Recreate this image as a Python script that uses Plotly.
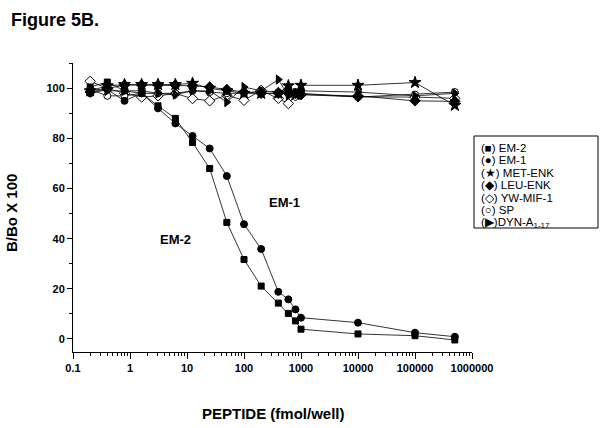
import plotly.graph_objects as go

X = [0.2, 0.4, 0.8, 1.6, 3.1, 6.25, 12.5, 25, 50, 100, 200, 400, 600, 800, 1000, 10000, 100000, 500000]
EM2 = [100.5, 102.5, 99, 98, 93, 88, 78.4, 68, 46.5, 31.7, 21.1, 14.3, 10.2, 7.2, 3.9, 2.0, 1.3, -0.4]
EM1 = [98, 99.5, 95, 98, 92, 86, 81, 76, 65, 45.8, 35.9, 18.8, 15.8, 11.8, 8.5, 6.5, 2.5, 0.9]
MET = [99, 101, 101.5, 101.5, 101.5, 101.5, 102, 100, 99, 98, 98, 98, 101, 97.5, 101.2, 101.2, 102.3, 93.2]
LEU = [98.5, 100, 101.3, 101.3, 101.3, 101.3, 101, 100.5, 99.5, 98.5, 98, 98, 98, 98, 97.5, 97, 95, 94.8]
YW = [102.8, 100, 98, 96.5, 97, 97.9, 95.9, 95, 97.2, 95.2, 99.2, 96, 93.9, 97, 97.5, 96.6, 96.5, 96]
SP = [99.5, 97, 97, 98, 98, 98, 99, 98.5, 98, 98, 99, 98.5, 100, 98.5, 98, 96.5, 97.5, 98.5]
DYN = [100, 99, 99, 99, 98, 97.5, 99, 99, 94.5, 100.5, 99, 103.5, 97, 98, 99, 98.5, 97, 98]

XTICKS = [0.1, 1, 10, 100, 1000, 10000, 100000, 1000000]
XTICKTEXT = ["0.1", "1", "10", "100", "1000", "10000", "100000", "1000000"]
YTICKS = [0, 20, 40, 60, 80, 100]
LEGEND_SYMBOLS = ["\u25A0", "\u25CF", "\u2605", "\u25C6", "\u25C7", "\u25CB", "\u25B6"]
LEGEND_LABELS = [" EM-2", " EM-1", " MET-ENK", " LEU-ENK", " YW-MIF-1", " SP", "DYN-A<sub>1-17</sub>"]

FONT = "Liberation Sans, Arial, sans-serif"

series = [
    ("YW-MIF-1", YW, "diamond", "white", 8),
    ("SP", SP, "circle", "white", 7),
    ("DYN-A", DYN, "triangle-right", "black", 8),
    ("LEU-ENK", LEU, "diamond", "black", 8),
    ("MET-ENK", MET, "star", "black", 9),
    ("EM-1", EM1, "circle", "black", 7),
    ("EM-2", EM2, "square", "black", 6),
]

fig = go.Figure()
for name, ys, sym, fill, sz in series:
    fig.add_trace(go.Scatter(
        x=X, y=ys, mode="lines+markers", name=name,
        line=dict(color="black", width=0.8),
        marker=dict(symbol=sym, size=sz, color=fill, line=dict(color="black", width=1)),
        showlegend=False,
    ))

minor_x = [m * 10 ** e for e in range(-1, 6) for m in range(2, 10)]

fig.update_layout(
    width=603, height=428,
    margin=dict(l=73, r=131, t=63, b=76),
    paper_bgcolor="white", plot_bgcolor="white",
    font=dict(family=FONT, color="black"),
    xaxis=dict(
        type="log", range=[-1, 6], showgrid=False, zeroline=False,
        showline=True, linecolor="black", linewidth=1,
        ticks="outside", ticklen=6, tickcolor="black", tickwidth=1,
        tickvals=XTICKS, ticktext=XTICKTEXT,
        tickfont=dict(size=11, family=FONT, weight="bold"),
        minor=dict(tickvals=minor_x, ticks="outside", ticklen=3, tickcolor="black", tickwidth=1),
    ),
    yaxis=dict(
        range=[-5.2, 110.1], showgrid=False, zeroline=False,
        showline=True, linecolor="black", linewidth=1,
        ticks="outside", ticklen=5, tickcolor="black", tickwidth=1,
        tickvals=YTICKS,
        tickfont=dict(size=11, family=FONT, weight="bold"),
        minor=dict(dtick=10, ticks="outside", ticklen=3, tickcolor="black", tickwidth=1),
    ),
)

pw, ph = 399, 289
def px2paper(px, py):
    return (px - 73) / pw, (352 - py) / ph

annotations = []
def add_text(text, px, py, size, xanchor="center", yanchor="middle", angle=0, bold=True):
    xp, yp = px2paper(px, py)
    annotations.append(dict(
        text=f"<b>{text}</b>" if bold else text, x=xp, y=yp, xref="paper", yref="paper",
        xanchor=xanchor, yanchor=yanchor, showarrow=False, textangle=angle,
        font=dict(size=size, family=FONT, color="black")))

add_text("Figure 5B.", 9, 20, 18, xanchor="left")
add_text("B/Bo X 100", 11, 213, 15, angle=-90)
add_text("PEPTIDE (fmol/well)", 273, 413, 15)
add_text("EM-1", 284, 202, 13)
add_text("EM-2", 175, 239, 13)

line_y0 = 147.5
for i, (s, t) in enumerate(zip(LEGEND_SYMBOLS, LEGEND_LABELS)):
    txt = f"({s}){t}"
    add_text(txt, 479, line_y0 + i * 12.6, 11.5, xanchor="left", bold=False)

fig.update_layout(annotations=annotations)

x0, y0 = px2paper(474, 228)
x1, y1 = px2paper(598, 136)
fig.add_shape(type="rect", xref="paper", yref="paper", x0=x0, y0=y0, x1=x1, y1=y1,
              line=dict(color="black", width=1), fillcolor="rgba(0,0,0,0)")

fig.write_html("out.html", config={"displayModeBar": False},
               post_script="document.body.style.margin='0px';document.body.style.overflow='hidden';")
